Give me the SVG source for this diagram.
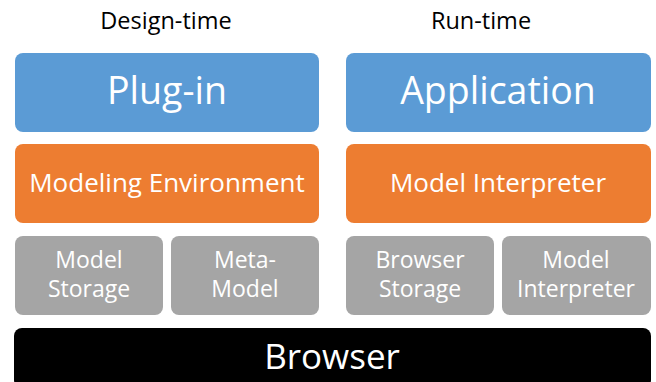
<svg xmlns="http://www.w3.org/2000/svg" width="656" height="382" viewBox="0 0 656 382">
<style>
text{font-family:"Open Sans","Noto Sans","DejaVu Sans",sans-serif;text-anchor:middle;fill:#fff}
.hdr{fill:#000;font-size:23.5px}
.blue{fill:#5b9bd5}
.orange{fill:#ed7d31}
.gray{fill:#a5a5a5}
.big{font-size:37.5px}
.mid{font-size:26px}
.sm{font-size:23px}
.br{font-size:35px}
</style>
<rect width="656" height="382" fill="#fff"/>
<text class="hdr" x="166" y="29">Design-time</text>
<text class="hdr" x="481" y="29">Run-time</text>
<g id="plugin"><rect class="blue" x="15" y="53" width="304" height="79" rx="8"/><text class="big" x="167" y="104">Plug-in</text></g>
<g id="application"><rect class="blue" x="346" y="53" width="305" height="79" rx="8"/><text class="big" x="498" y="104">Application</text></g>
<g id="modeling-env"><rect class="orange" x="15" y="144" width="304" height="79" rx="8"/><text class="mid" x="167" y="192">Modeling Environment</text></g>
<g id="model-interp-top"><rect class="orange" x="346" y="144" width="305" height="79" rx="8"/><text class="mid" x="498" y="192">Model Interpreter</text></g>
<g id="model-storage"><rect class="gray" x="15" y="236" width="148" height="79" rx="8"/><text class="sm" x="89" y="268">Model</text><text class="sm" x="89" y="297">Storage</text></g>
<g id="meta-model"><rect class="gray" x="171" y="236" width="148" height="79" rx="8"/><text class="sm" x="245" y="268">Meta-</text><text class="sm" x="245" y="297">Model</text></g>
<g id="browser-storage"><rect class="gray" x="346" y="236" width="148" height="79" rx="8"/><text class="sm" x="420" y="268">Browser</text><text class="sm" x="420" y="297">Storage</text></g>
<g id="model-interp"><rect class="gray" x="502" y="236" width="149" height="79" rx="8"/><text class="sm" x="576" y="268">Model</text><text class="sm" x="576" y="297">Interpreter</text></g>
<g id="browser"><rect x="14" y="328" width="637" height="60" rx="8" fill="#000"/><text class="br" x="332" y="369">Browser</text></g>
<g id="connectors"/>
</svg>
